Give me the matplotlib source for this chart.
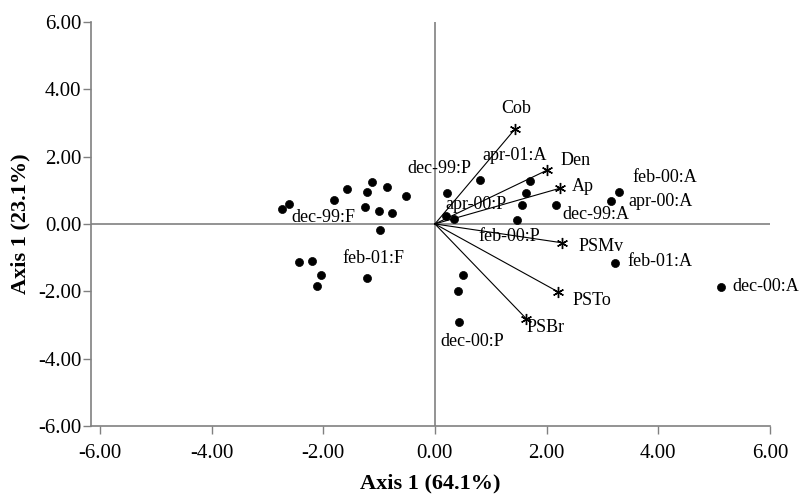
import numpy as np
import matplotlib
matplotlib.use('Agg')
import matplotlib.pyplot as plt

plt.rcParams['font.family'] = 'Liberation Serif'
plt.rcParams['axes.unicode_minus'] = False

# sample scores (axis 1, axis 2)
site_x = [-2.74, -2.61, -1.81, -1.57, -1.12, -1.21, -0.85, -0.51, -1.25, -1.00,
          -0.77, -0.99, -2.44, -2.20, -2.04, -2.11, -1.21,
          0.21, 0.80, 1.71, 1.64, 1.56, 2.16, 1.47, 0.20, 0.35,
          0.51, 0.41, 0.44,
          3.29, 3.16, 3.23, 5.13]
site_y = [0.45, 0.60, 0.70, 1.05, 1.25, 0.96, 1.10, 0.84, 0.49, 0.39,
          0.32, -0.17, -1.13, -1.11, -1.51, -1.85, -1.60,
          0.92, 1.31, 1.27, 0.92, 0.55, 0.55, 0.13, 0.25, 0.15,
          -1.53, -1.99, -2.90,
          0.94, 0.69, -1.15, -1.87]

# variable vectors
var_names = ['Cob', 'Den', 'Ap', 'PSMv', 'PSTo', 'PSBr']
var_x = [1.44, 2.00, 2.24, 2.28, 2.21, 1.64]
var_y = [2.83, 1.59, 1.06, -0.56, -2.02, -2.82]
var_lab_x = [1.46, 2.25, 2.45, 2.57, 2.46, 1.64]
var_lab_y = [3.42, 1.88, 1.11, -0.67, -2.28, -3.08]

# sample group labels
grp_names = ['apr-01:A', 'dec-99:P', 'apr-00:P', 'dec-99:A', 'feb-00:A', 'apr-00:A',
             'dec-99:F', 'feb-01:F', 'feb-00:P', 'feb-01:A', 'dec-00:A', 'dec-00:P']
grp_x = [0.85, -0.49, 0.19, 2.28, 3.54, 3.47, -2.57, -1.66, 0.78, 3.45, 5.33, 0.10]
grp_y = [2.03, 1.64, 0.57, 0.28, 1.37, 0.66, 0.19, -1.03, -0.38, -1.12, -1.86, -3.50]

ticks = [-6, -4, -2, 0, 2, 4, 6]
grey = '#808080'

fig = plt.figure(figsize=(8.01, 4.96), dpi=100)
ax = fig.add_axes([0.1136, 0.141, 0.8476, 0.815])

ax.axhline(0, color=grey, lw=1.2, zorder=1)
ax.axvline(0, color=grey, lw=1.2, zorder=1)

for vx, vy in zip(var_x, var_y):
    ax.plot([0, vx], [0, vy], color='black', lw=0.8, zorder=2)
ax.plot(var_x, var_y, ls='none', marker=(6, 2, 0), ms=8, mec='black', mew=1.0, zorder=3)

ax.plot(site_x, site_y, ls='none', marker='o', ms=5.8, mew=0.5, color='black', zorder=3)

for i, name in enumerate(var_names):
    ha = 'center' if name == 'Cob' else 'left'
    ax.text(var_lab_x[i], var_lab_y[i], name, fontsize=13, ha=ha, va='center')

for i, name in enumerate(grp_names):
    ax.text(grp_x[i], grp_y[i], name, fontsize=13, ha='left', va='center')

ax.set_xlim(-6.16, 6.0)
ax.set_ylim(-6.0, 6.0)
ax.set_xticks(ticks)
ax.set_yticks(ticks)
ax.set_xticklabels(['%.2f' % t for t in ticks])
ax.set_yticklabels(['%.2f' % t for t in ticks])
ax.tick_params(colors=grey, labelcolor='black', labelsize=15, length=6, width=1)
ax.tick_params(axis='x', pad=7)
ax.tick_params(axis='y', pad=1)

for s in ['top', 'right']:
    ax.spines[s].set_visible(False)
for s in ['left', 'bottom']:
    ax.spines[s].set_color(grey)
    ax.spines[s].set_linewidth(1.2)

ax.set_xlabel('Axis 1 (64.1%)', fontsize=16, fontweight='bold', va='center')
ax.set_ylabel('Axis 1 (23.1%)', fontsize=16, fontweight='bold', va='center')
ax.xaxis.set_label_coords(0.5, -57 / 404)
ax.yaxis.set_label_coords(-71 / 679, 0.5)

fig.savefig('out.png', dpi=100)
